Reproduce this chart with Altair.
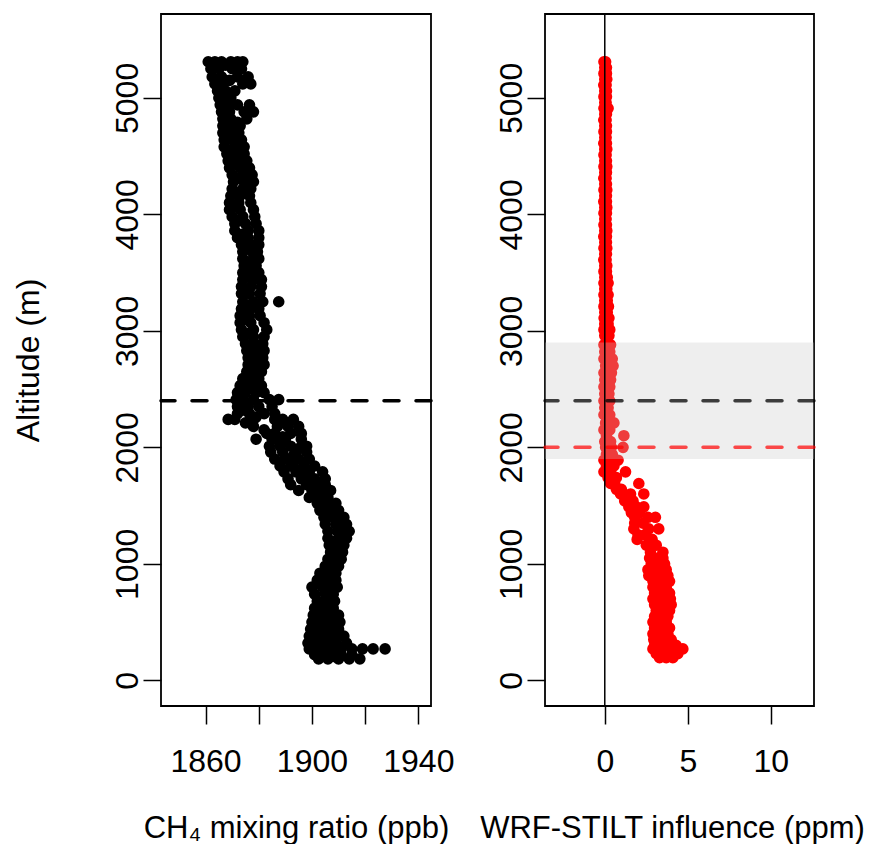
import altair as alt
import pandas as pd

# ---------------- data ----------------
# Left panel: CH4 mixing ratio (ppb) at each altitude level (m)
ch4_levels = [5310, 5250, 5180, 5120, 5060, 5000, 4940, 4880, 4820, 4760, 4700, 4640,
              4580, 4520, 4460, 4400, 4340, 4280, 4220, 4160, 4100, 4040, 3980, 3920,
              3860, 3800, 3740, 3680, 3620, 3560, 3500, 3440, 3380, 3320, 3250, 3190,
              3130, 3070, 3010, 2950, 2890, 2830, 2770, 2710, 2650, 2590, 2530, 2470,
              2410, 2350, 2290, 2240, 2180, 2120, 2070, 2010, 1960, 1900, 1840, 1790,
              1730, 1680, 1630, 1570, 1520, 1460, 1400, 1340, 1280, 1220, 1160, 1100,
              1040, 980, 920, 860, 800, 740, 680, 620, 560, 500, 440, 380, 320, 270,
              220, 185]
ch4_values = [
    [1861, 1863.5, 1866, 1869.5, 1872, 1874], [1862, 1865, 1870, 1873.5],
    [1862.5, 1866, 1872, 1876], [1863.5, 1866.5, 1874, 1877], [1864.5, 1867.5, 1871],
    [1865, 1867.5, 1869.5], [1865.5, 1868.5, 1872, 1876.5], [1866, 1869, 1874.5, 1878],
    [1866.5, 1869.5, 1875.5], [1866.5, 1869.5, 1873], [1866.5, 1869.5, 1872.5],
    [1867, 1870, 1873.5], [1867, 1871, 1874.5], [1868, 1871.5, 1874.5],
    [1868.5, 1872, 1875.5], [1869, 1873, 1876.5], [1870, 1874, 1877.5],
    [1870.5, 1874.5, 1878], [1870, 1874, 1877], [1869.5, 1873, 1876.5],
    [1869, 1872.5, 1877], [1869, 1873, 1878], [1870, 1874, 1878.5], [1871, 1875, 1879],
    [1871, 1876, 1880], [1872, 1876, 1880], [1873.5, 1877, 1880], [1874, 1877.5, 1879.5],
    [1874, 1878, 1880], [1874.5, 1877, 1879], [1874, 1877.5, 1880], [1874, 1878, 1881],
    [1873.5, 1877, 1881], [1873.5, 1876.5, 1880.5], [1874, 1878, 1881.5, 1887.5],
    [1873.5, 1877, 1880], [1873, 1876.5, 1880.5], [1873, 1877, 1882], [1873.5, 1878, 1883],
    [1874, 1878, 1882], [1875, 1878.5, 1881.5], [1875.5, 1879, 1882], [1876, 1879, 1881.5],
    [1876, 1879.5, 1882], [1875.5, 1878.5, 1881], [1874, 1877.5, 1880],
    [1873, 1876, 1879, 1881], [1872, 1875, 1879, 1882], [1871.5, 1874, 1878, 1884, 1887.5],
    [1872, 1876, 1880, 1885], [1872, 1876.5, 1882, 1886],
    [1868.5, 1871, 1878, 1886, 1889, 1893], [1878, 1887, 1891, 1895],
    [1883, 1886, 1892, 1896], [1879, 1885, 1890, 1896], [1884, 1888, 1892, 1898],
    [1884.5, 1889, 1894, 1898], [1886, 1890, 1895, 1899], [1888, 1892, 1897, 1901],
    [1889.5, 1894, 1899, 1904], [1891, 1896, 1901, 1905], [1892, 1898, 1902, 1905],
    [1895, 1900, 1904, 1907], [1899, 1903, 1906], [1902, 1905.5, 1909],
    [1903, 1906.5, 1910], [1904.5, 1908, 1912], [1905, 1909, 1913], [1906, 1909.5, 1914],
    [1906, 1910, 1913], [1906.5, 1909, 1912], [1907, 1909.5, 1911.5], [1906, 1908.5, 1911],
    [1905, 1907.5, 1910], [1903, 1906, 1909], [1902, 1905.5, 1909],
    [1900, 1904, 1908, 1909.5], [1901, 1905, 1908], [1902, 1905, 1908.5],
    [1901, 1904.5, 1908], [1900.5, 1904, 1907, 1910], [1900, 1903.5, 1907, 1910.5],
    [1899.5, 1903, 1906.5, 1910], [1899, 1902, 1906, 1909.5, 1912],
    [1898.5, 1902, 1905.5, 1909, 1913],
    [1899, 1903, 1907, 1911, 1915, 1919, 1923, 1927.5],
    [1901, 1904.5, 1908, 1911, 1915], [1902.5, 1906, 1910, 1914, 1918],
]
# extra scattered samples between the levels (altitude, CH4)
ch4_extra_alt = [5280, 5150, 5030, 4910, 4790, 4670, 4550, 4430, 4310, 4190, 4070,
                 3950, 3830, 3710, 3590, 3470, 3350, 3220, 3100, 2980, 2860, 2740,
                 2620, 2500, 2380, 2320, 2260, 2210, 2150, 2090, 2040, 1990, 1930,
                 1870, 1810, 1760, 1700, 1650, 1600, 1545, 1490, 1430, 1370, 1310,
                 1250, 1190, 1130, 1070, 1010, 950, 890, 830, 770, 710, 650, 590,
                 530, 470, 410, 350, 295, 245, 205]
ch4_extra_val = [1867.5, 1869, 1868, 1867.5, 1872, 1868, 1869, 1870, 1872, 1871.5,
                 1870.5, 1872.5, 1874, 1875.5, 1876, 1876, 1875.5, 1876, 1875, 1876,
                 1877, 1878, 1877, 1875, 1876, 1874, 1879, 1875, 1882, 1889, 1888,
                 1895, 1893, 1893, 1896, 1898, 1899, 1902, 1902, 1905, 1907, 1909,
                 1910, 1911, 1912, 1908, 1910, 1909, 1908, 1907, 1907.5, 1906.5, 1906,
                 1906.5, 1906.5, 1906, 1905.5, 1905, 1904.5, 1904, 1906, 1909, 1908]

# Right panel: WRF-STILT influence (ppm) at each altitude level (m)
infl_levels = [5310, 5260, 5210, 5160, 5110, 5060, 5010, 4960, 4910, 4860, 4810, 4760,
               4710, 4660, 4610, 4560, 4510, 4460, 4410, 4360, 4310, 4260, 4210, 4160,
               4110, 4060, 4010, 3960, 3910, 3860, 3810, 3760, 3710, 3660, 3610, 3560,
               3510, 3460, 3410, 3360, 3310, 3260, 3210, 3160, 3110, 3060, 3010, 2960,
               2880, 2820, 2760, 2700, 2640, 2580, 2520, 2460, 2400, 2340, 2280, 2210,
               2150, 2100, 2050, 2000, 1940, 1890, 1840, 1790, 1740, 1690, 1640, 1600,
               1540, 1490, 1440, 1400, 1350, 1300, 1250, 1210, 1160, 1100, 1050, 1000,
               950, 900, 850, 800, 750, 700, 650, 600, 550, 500, 450, 400, 350, 300,
               270, 230, 195]
infl_values = [
    [-0.05, 0.05], [0.0, 0.1], [-0.05, 0.1], [0.0, 0.12], [-0.06, 0.08], [0.0, 0.1],
    [-0.05, 0.1], [0.0, 0.08], [-0.05, 0.2], [0.0, 0.1], [-0.06, 0.08], [0.0, 0.1],
    [-0.05, 0.1], [0.0, 0.08], [-0.06, 0.1], [0.0, 0.12], [-0.05, 0.08], [0.0, 0.1],
    [-0.05, 0.12], [0.0, 0.1], [-0.06, 0.08], [0.0, 0.1], [-0.05, 0.12], [0.0, 0.1],
    [-0.06, 0.1], [0.0, 0.12], [-0.05, 0.1], [0.0, 0.08], [-0.05, 0.1], [0.0, 0.12],
    [-0.06, 0.1], [0.0, 0.1], [-0.05, 0.12], [0.0, 0.1], [-0.06, 0.08], [0.0, 0.12],
    [-0.05, 0.1], [0.0, 0.15], [-0.05, 0.2], [0.0, 0.12], [-0.05, 0.2], [0.0, 0.15],
    [-0.05, 0.22], [0.0, 0.15], [-0.04, 0.25], [0.0, 0.2], [-0.05, 0.3], [0.0, 0.25],
    [-0.05, 0.2, 0.35], [0.0, 0.3], [-0.05, 0.25, 0.45], [0.05, 0.5],
    [-0.05, 0.3, 0.4], [0.0, 0.35], [-0.05, 0.2, 0.3], [0.0, 0.25],
    [-0.05, 0.15, 0.3], [0.0, 0.2], [-0.05, 0.3], [0.05, 0.55], [-0.05, 0.3],
    [0.1, 1.15], [0.0, 0.35], [0.05, 0.4, 1.1], [0.1, 0.45], [-0.05, 0.3, 0.8],
    [0.1, 0.55], [-0.05, 0.35, 1.25], [0.2, 0.7], [0.35, 0.6, 2.05], [0.7, 1.0],
    [0.95, 1.55, 2.35], [1.2, 1.7], [1.45, 1.9, 2.35], [1.6, 2.1], [1.8, 2.6, 3.05],
    [1.8, 2.3], [1.75, 2.65, 3.25], [2.0, 2.4], [1.95, 2.85], [2.5, 3.1], [2.75, 3.5],
    [2.7, 3.2, 3.5], [2.8, 3.3, 3.6], [2.6, 3.1, 3.7], [2.65, 3.2, 3.8],
    [2.9, 3.4, 3.9], [2.9, 3.3, 3.7], [3.0, 3.5, 3.9], [2.9, 3.4, 3.95],
    [3.0, 3.5, 4.0], [3.1, 3.6, 3.9], [3.0, 3.4, 3.8], [2.9, 3.3, 3.7],
    [3.0, 3.5, 3.9], [2.9, 3.4, 3.8], [2.95, 3.5, 4.0], [3.0, 3.4, 3.9, 4.3],
    [2.9, 3.3, 3.8, 4.3, 4.7], [3.1, 3.5, 4.0, 4.4], [3.3, 3.7, 4.1],
]

y_ticks = [0, 1000, 2000, 3000, 4000, 5000]
ch4_ticks = [1860, 1880, 1900, 1920, 1940]
infl_ticks = [0, 5, 10]
obs_pbl = [2400]          # dashed black line (both panels)
wrf_pbl = [2000]          # dashed red line (right panel)
pbl_band = [1900, 2900]   # grey band (right panel)
zero_line = [0]

Y_DOMAIN = [-220, 5720]
CH4_DOMAIN = [1843.24, 1944.76]
INFL_DOMAIN = [-3.6, 12.6]

FONT = "Liberation Sans"
FS = 32
TFS = 31
W, H = 270, 692
PT = 135

left_rows = [{"alt": a, "val": v} for a, vs in zip(ch4_levels, ch4_values) for v in vs]
left_rows += [{"alt": a, "val": v} for a, v in zip(ch4_extra_alt, ch4_extra_val)]
left_df = pd.DataFrame(left_rows)
right_df = pd.DataFrame([{"alt": a, "val": v} for a, vs in zip(infl_levels, infl_values) for v in vs])


def y_enc(show_title):
    ax = dict(values=y_ticks, format="d", labelAngle=270, labelAlign="center",
              labelBaseline="alphabetic", labelPadding=6, tickSize=18,
              tickWidth=1.5, tickColor="black", domain=False, grid=False,
              labelFontSize=FS, labelFont=FONT, labelColor="black")
    if show_title:
        ax.update(title="Altitude (m)", titlePadding=66, titleFontSize=FS,
                  titleFont=FONT, titleFontWeight="normal", titleColor="black")
    else:
        ax.update(title=None)
    return alt.Y("alt:Q", scale=alt.Scale(domain=Y_DOMAIN, nice=False, zero=False),
                 axis=alt.Axis(**ax))


def x_enc(domain, ticks, title, label_expr, title_x):
    ax = dict(values=ticks, format="d", labelPadding=22, tickSize=18, tickWidth=1.5,
              tickColor="black", domain=False, grid=False, labelFontSize=FS,
              labelFont=FONT, labelColor="black", labelOverlap=False,
              title=title, titlePadding=36, titleFontSize=TFS, titleFont=FONT,
              titleFontWeight="normal", titleColor="black", titleX=title_x)
    if label_expr:
        ax["labelExpr"] = label_expr
    return alt.X("val:Q", scale=alt.Scale(domain=domain, nice=False, zero=False),
                 axis=alt.Axis(**ax))


# ---------------- left panel ----------------
left_pts = alt.Chart(left_df).mark_circle(size=PT, color="black", opacity=1).encode(
    x=x_enc(CH4_DOMAIN, ch4_ticks, "CH₄ mixing ratio (ppb)",
            "datum.value % 40 == 20 ? datum.label : ''", W / 2),
    y=y_enc(True),
)
left_rule = alt.Chart(pd.DataFrame({"alt": obs_pbl})).mark_rule(
    color="black", strokeWidth=3.5, strokeDash=[15, 17], strokeCap="round"
).encode(y="alt:Q")
left = alt.layer(left_pts, left_rule).properties(width=W, height=H)

# ---------------- right panel ----------------
right_pts = alt.Chart(right_df).mark_circle(size=PT, color="red", opacity=1).encode(
    x=x_enc(INFL_DOMAIN, infl_ticks, "WRF-STILT influence (ppm)", None, 127),
    y=y_enc(False),
)
band = alt.Chart(pd.DataFrame({"lo": [pbl_band[0]], "hi": [pbl_band[1]]})).mark_rect(
    color="#c8c8c8", opacity=0.3
).encode(y="lo:Q", y2="hi:Q")
right_obs = alt.Chart(pd.DataFrame({"alt": obs_pbl})).mark_rule(
    color="black", opacity=0.75, strokeWidth=3.5, strokeDash=[15, 17], strokeCap="round"
).encode(y="alt:Q")
right_wrf = alt.Chart(pd.DataFrame({"alt": wrf_pbl})).mark_rule(
    color="red", opacity=0.7, strokeWidth=3.5, strokeDash=[15, 17], strokeCap="round"
).encode(y="alt:Q")
right_zero = alt.Chart(pd.DataFrame({"val": zero_line})).mark_rule(
    color="black", strokeWidth=1.5
).encode(x="val:Q")
right = alt.layer(right_pts, band, right_obs, right_wrf, right_zero).properties(width=W - 1, height=H)

chart = alt.hconcat(left, right, spacing=114, bounds="flush").properties(
    padding={"left": 3, "top": 4, "right": 0, "bottom": 0}
).configure(font=FONT).configure_view(stroke="black", strokeWidth=1.8)

chart.save("out.html", embed_options={"renderer": "svg", "actions": False})
